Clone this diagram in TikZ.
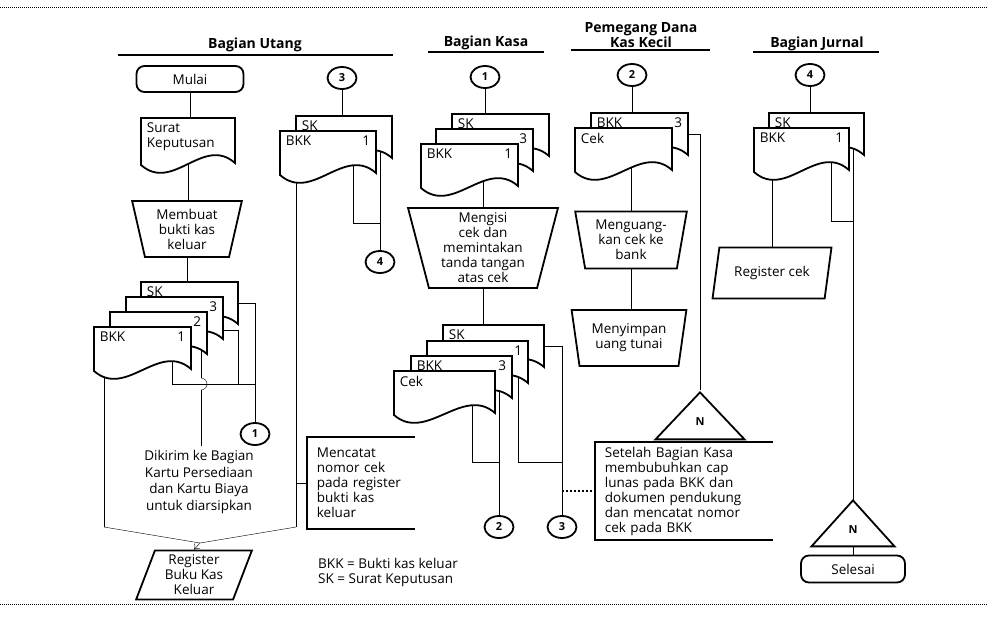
\documentclass[tikz,border=0pt]{standalone}
\usepackage{fontspec}
\setmainfont{Open Sans}
\usetikzlibrary{shapes.geometric,arrows.meta}
\pgfdeclarelayer{bg}
\pgfsetlayers{bg,main}
\newcommand{\fbody}{\fontsize{13.5}{15}\selectfont}
\newcommand{\fhead}{\fontsize{14}{15}\selectfont\bfseries}
\newcommand{\fcirc}{\fontsize{11}{12}\selectfont\bfseries}
\tikzset{
  lane/.style={font=\fhead,inner sep=1pt},
  term/.style={draw,fill=white,rounded corners=8pt,minimum width=107pt,minimum height=26pt},
  conn/.style={draw,fill=white,ellipse,minimum width=29pt,minimum height=22pt,inner sep=0pt,font=\fcirc},
  proc/.style={draw,fill=white,trapezium,shape border rotate=180,trapezium stretches=true,
    trapezium left angle=77,trapezium right angle=77,align=center,inner sep=0pt},
  io/.style={draw,fill=white,trapezium,trapezium stretches=true,trapezium left angle=71,
    trapezium right angle=109,align=center,inner sep=1pt},
  offpage/.style={draw,fill=white,isosceles triangle,isosceles triangle stretches,
    shape border rotate=90,anchor=apex,inner sep=0pt,font=\fcirc},
  docnode/.style={minimum width=97pt,minimum height=42pt,inner sep=0pt,outer sep=0pt,anchor=north west},
  doclbl/.style={align=left,inner xsep=5pt,inner ysep=4pt},
  note/.style={anchor=west,align=left,inner xsep=9pt},
  border/.style={line width=0.8pt,dash pattern=on 1pt off 1pt}
}
% document symbol: name, top left corner, left text, right text
\newcommand{\docu}[5][]{%
  \node[docnode,#1] (#2) at (#3) {};
  \draw[fill=white] (#2.north west) -- (#2.north east) -- (#2.south east)
    .. controls +(-32,-28) and +(32,28) .. ([yshift=-2pt]#2.south west) -- cycle;
  \node[doclbl,anchor=north west] at (#2.north west) {#4};
  \node[doclbl,anchor=north east] at (#2.north east) {#5};
}
\begin{document}
\begin{tikzpicture}[x=1pt,y=-1pt,line width=1.8pt,every node/.style={font=\fbody}]
\useasboundingbox (0,0) rectangle (987,618);
\draw[border] (0,7) -- (987,7);
\draw[border] (0,604) -- (987,604);
% lanes
\node[lane] (hUtang) at (255,45) {Bagian Utang};
\draw (118,55) -- (393,55);
\node[lane] (hKasa) at (486,43) {Bagian Kasa};
\draw (428,52) -- (544,52);
\node[lane,align=center] (hDana) at (641,35) {Pemegang Dana\\Kas Kecil};
\draw (571,50) -- (710,50);
\node[lane] (hJurnal) at (817,44) {Bagian Jurnal};
\draw (753,52) -- (879,52);
% Bagian Utang
\node[term] (mulai) at (190,79) {Mulai};
\docu[minimum width=94pt,minimum height=45pt]{surat}{141,118}{Surat\\Keputusan}{}
\node[proc,minimum width=110pt,minimum height=56pt] (buat) at (187,229) {Membuat\\bukti kas\\keluar};
\docu{skU}{141,282}{SK}{}
\docu{tigaU}{126,297}{}{3}
\docu{duaU}{110,312}{}{2}
\docu{bkkU}{94,327}{BKK}{1}
\node[conn] (c3a) at (342,78) {3};
\docu[minimum width=96pt]{skU2}{296,116}{SK}{}
\docu[minimum width=96pt]{bkkU2}{280,131}{BKK}{1}
\node[conn] (c4a) at (380,262) {4};
\node[conn] (c1a) at (255,434) {1};
\node[align=center,font=\fontsize{13.5}{16.5}\selectfont] (kirim) at (199,482)
  {Dikirim ke Bagian\\Kartu Persediaan\\dan Kartu Biaya\\untuk diarsipkan};
\node[io,minimum width=116pt,minimum height=49pt] (regkas) at (194,575) {Register\\Buku Kas\\Keluar};
\node[note,minimum height=90pt,text width=88pt] (catat) at (307,483)
  {Mencatat\\nomor cek\\pada register\\bukti kas\\keluar};
\draw (catat.north east) -- (catat.north west) -- (catat.south west) -- (catat.south east);
% Bagian Kasa
\node[conn] (c1b) at (485,77) {1};
\docu{skK}{452,114}{SK}{}
\docu{tigaK}{436,129}{}{3}
\docu{bkkK}{421,144}{BKK}{1}
\node[proc,minimum width=150pt,minimum height=80pt] (isi) at (483,248)
  {Mengisi\\cek dan\\memintakan\\tanda tangan\\atas cek};
\docu[minimum width=101pt]{skK2}{443,325}{SK}{}
\docu[minimum width=101pt]{satuK2}{427,341}{}{1}
\docu[minimum width=101pt]{bkkK2}{411,356}{BKK}{3}
\docu[minimum width=101pt]{cekK2}{394,371}{Cek}{}
\node[conn] (c2b) at (499,527) {2};
\node[conn] (c3b) at (562,527) {3};
\node[note,minimum height=96pt,text width=158pt] (lunas) at (595,491)
  {Setelah Bagian Kasa\\membubuhkan cap\\lunas pada BKK dan\\dokumen pendukung\\dan mencatat nomor\\cek pada BKK};
\draw (lunas.north east) -- (lunas.north west) -- (lunas.south west) -- (lunas.south east);
\node[anchor=west,align=left] (legenda) at (314,572) {BKK = Bukti kas keluar\\SK = Surat Keputusan};
% Pemegang Dana Kas Kecil
\node[conn] (c2c) at (632,75) {2};
\docu{bkkP}{591,113}{BKK}{3}
\docu{cekP}{575,128}{Cek}{}
\node[proc,trapezium left angle=79,trapezium right angle=79,minimum width=112pt,minimum height=57pt]
  (uang) at (631,240) {Menguang-\\kan cek ke\\bank};
\node[proc,trapezium left angle=78,trapezium right angle=78,minimum width=115pt,minimum height=56pt]
  (simpan) at (629,338) {Menyimpan\\uang tunai};
\node[offpage,minimum width=89pt,minimum height=47pt] (nA) at (700,390) {N};
% Bagian Jurnal
\node[conn] (c4b) at (810,75) {4};
\docu[minimum width=95pt]{skJ}{769,113}{SK}{}
\docu[minimum width=95pt]{bkkJ}{754,128}{BKK}{1}
\node[io,trapezium left angle=72,trapezium right angle=108,minimum width=119pt,minimum height=51pt]
  (regcek) at (772,273) {Register cek};
\node[offpage,minimum width=83pt,minimum height=46pt] (nB) at (853,498) {N};
\node[term,minimum width=104pt,minimum height=27pt] (selesai) at (853,569) {Selesai};
% flow lines
\begin{pgfonlayer}{bg}
\coordinate (jU) at (255,384);
\coordinate (jUa) at (172,384);
\coordinate (jUb) at (238,384);
\coordinate (jU2) at (353,223);
\coordinate (hop) at (201,378);
\coordinate (kL) at (104,527);
\coordinate (kR) at (296,527);
\coordinate (kM) at (200,543);
\draw (mulai) -- (mulai |- surat.north);
\draw (surat) -- (surat |- buat.north);
\draw (buat) -- (buat |- skU.north);
\draw (skU.east) -| (c1a);
\draw ([yshift=-12pt]tigaU.east) -| (jUb);
\draw (bkkU.center -| jUa) -- (jUa) -- (jU);
\draw (duaU.center -| hop) -- (hop);
\draw (hop) arc[start angle=90,end angle=-90,radius=6pt];
\draw ([yshift=-12pt]hop) -- (kirim.north -| hop);
\draw (c3a) -- (c3a |- skU2.north);
\draw (bkkU2.center -| jU2) -- (jU2) -- (jU2 -| c4a);
\draw (skU2.center -| c4a) -- (c4a);
\draw (bkkU.center -| kL) -- (kL);
\draw (bkkU2.center -| kR) -- (kR);
\draw (kL) -- (kM);
\draw (kR) -- (kM);
\draw[-{To[length=5pt,width=8pt]}] (kM) -- (regkas.north);
\draw (kR |- catat.west) -- (catat.west);
\coordinate (jK0) at (472,462);
\coordinate (jK1) at (500,462);
\coordinate (jK2) at (518,462);
\coordinate (jK3) at (562,462);
\draw (c1b) -- (c1b |- skK.north);
\draw (isi |- bkkK.center) -- (isi);
\draw (isi) -- (isi |- skK2.north);
\draw (cekK2.center -| jK0) -- (jK0) -- (jK1);
\draw (bkkK2.center -| c2b) -- (c2b);
\draw (satuK2.center -| jK2) -- (jK2) -- (jK3);
\draw (skK2.east) -| (c3b);
\draw[line width=1.2pt,dash pattern=on 2pt off 2pt] (c3b |- lunas.west) -- (lunas.west);
\draw (c2c) -- (c2c |- bkkP.north);
\draw (uang |- cekP.center) -- (uang);
\draw (uang.center) -- (uang.center |- simpan.north);
\draw (bkkP.east) -| (nA.apex);
\coordinate (jJ0) at (831,221);
\coordinate (jJ1) at (853,221);
\draw (c4b) -- (c4b |- skJ.north);
\draw (regcek |- bkkJ.center) -- (regcek);
\draw (bkkJ.center -| jJ0) -- (jJ0) -- (jJ1);
\draw (skJ.center -| jJ1) -- (jJ1 |- nB.apex);
\draw (selesai.center) -- (selesai.center |- nB.apex);
\end{pgfonlayer}
\end{tikzpicture}
\end{document}
